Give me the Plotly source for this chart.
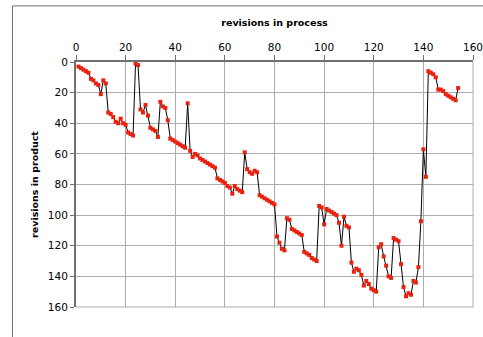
import plotly.graph_objects as go

# revision index in process order
process_rev = list(range(1, 155))

# matching revision index in the product
product_rev = [
    3, 4, 5, 6, 7, 11, 12, 14, 15, 21,
    12, 14, 33, 34, 36, 39, 40, 37, 40, 41,
    46, 47, 48, 1, 2, 31, 33, 28, 35, 43,
    44, 45, 49, 26, 29, 30, 38, 50, 51, 52,
    53, 54, 55, 56, 27, 58, 62, 60, 61, 63,
    64, 65, 66, 67, 68, 69, 76, 77, 78, 79,
    81, 82, 86, 81, 83, 84, 85, 59, 70, 72,
    73, 71, 72, 87, 88, 89, 90, 91, 92, 93,
    114, 118, 122, 123, 102, 103, 109, 110, 111, 112,
    113, 124, 125, 126, 128, 129, 130, 94, 95, 106,
    96, 97, 98, 99, 100, 105, 120, 101, 107, 108,
    131, 137, 135, 136, 139, 146, 143, 145, 148, 149,
    150, 121, 119, 127, 133, 140, 141, 115, 116, 117,
    132, 147, 153, 151, 152, 143, 144, 134, 104, 57,
    75, 6, 7, 8, 10, 18, 18, 19, 21, 22,
    23, 24, 25, 17,
]

x_ticks = [0, 20, 40, 60, 80, 100, 120, 140, 160]
y_ticks = [0, 20, 40, 60, 80, 100, 120, 140, 160]

font_family = "DejaVu Sans"

fig = go.Figure()
fig.add_trace(go.Scatter(
    x=process_rev,
    y=product_rev,
    mode="lines+markers",
    line=dict(color="#000000", width=1),
    marker=dict(symbol="square", size=4, color="#e8220f", line=dict(width=0)),
    showlegend=False,
))

fig.update_layout(
    width=483,
    height=337,
    margin=dict(l=76, r=10, t=62, b=30),
    paper_bgcolor="white",
    plot_bgcolor="white",
    font=dict(family=font_family, size=11, color="#000000"),
    xaxis=dict(
        side="top",
        range=[0, 160],
        tickvals=x_ticks,
        ticks="outside",
        ticklen=5,
        tickcolor="#707070",
        showline=True,
        linecolor="#707070",
        linewidth=2,
        showgrid=True,
        gridcolor="#adadad",
        gridwidth=1,
        zeroline=False,
        automargin=False,
        ticklabeloverflow="allow",
        title=dict(text="<b>revisions in process</b>", font=dict(size=9.5), standoff=12),
        tickfont=dict(size=10.5),
    ),
    yaxis=dict(
        range=[160, 0],
        tickvals=y_ticks,
        ticks="outside",
        ticklen=4,
        tickcolor="#707070",
        showline=True,
        linecolor="#707070",
        linewidth=2,
        showgrid=True,
        gridcolor="#adadad",
        gridwidth=1,
        zeroline=False,
        automargin=False,
        title=dict(text="<b>revisions in product</b>", font=dict(size=9.5), standoff=8),
        tickfont=dict(size=10.5),
    ),
    shapes=[
        # right and bottom edge of the plot area
        dict(type="line", xref="paper", yref="paper", x0=1, x1=1, y0=0, y1=1,
             line=dict(color="#adadad", width=1)),
        dict(type="line", xref="paper", yref="paper", x0=0, x1=1, y0=0, y1=0,
             line=dict(color="#adadad", width=1)),
        # outer chart frame (top and left)
        dict(type="line", xref="paper", yref="paper", x0=-0.16, x1=1.05, y0=1.229, y1=1.229,
             line=dict(color="#707070", width=1)),
        dict(type="line", xref="paper", yref="paper", x0=-0.16, x1=-0.16, y0=-0.2, y1=1.229,
             line=dict(color="#707070", width=1)),
    ],
)

fig.write_html("out.html")
